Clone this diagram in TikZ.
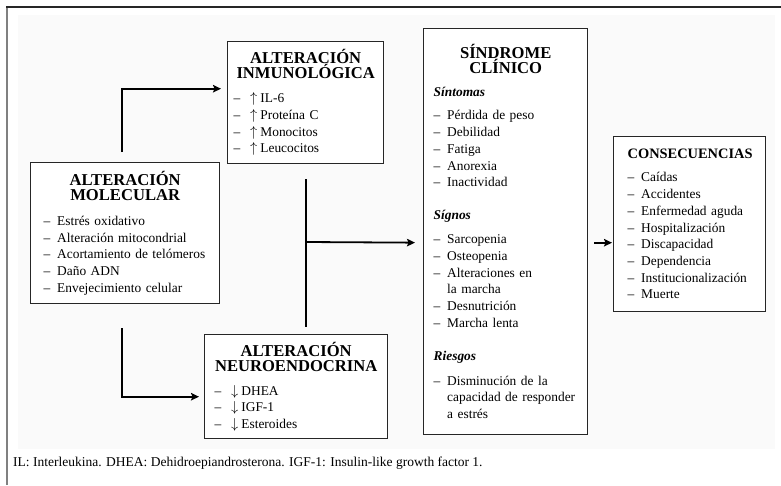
\documentclass[tikz,border=0pt]{standalone}
\usepackage{fontspec}
\setmainfont{Liberation Serif}
\usepackage{tikz}
\usepackage{xcolor}
\usetikzlibrary{arrows.meta}

\newcommand{\titulo}[2][16.6]{{\centering\bfseries\fontsize{#1}{15}\selectfont\lineskiplimit=-20pt #2\par}}
\newcommand{\elem}[1]{\par\hangindent=13.5pt\hangafter=1\noindent\makebox[13.5pt][l]{--}#1\par}
\newcommand{\grupo}[1]{\par\noindent{\bfseries\itshape #1}\par}
\newcommand{\sube}{\hspace{3pt}$\uparrow$\hspace{3pt}}
\newcommand{\baja}{\hspace{3pt}$\downarrow$\hspace{3pt}}

\begin{document}
\begin{tikzpicture}[x=1pt, y=-1pt]
            % Define styles
            \tikzstyle{box} = [rectangle, draw=black!85, line width=1.4pt, fill=white, anchor=north west, align=left, inner ysep=0pt, font=\fontsize{13.4}{16.7}\selectfont]
            \tikzstyle{arrow} = [line width=1.8pt, ->, >={Stealth[length=8pt, width=7.5pt, inset=1.5pt]}]
            \tikzstyle{link} = [line width=1.8pt]

            \useasboundingbox (0,0) rectangle (781,485);
            \fill [black!2] (18,15) rectangle (775,449);
            \draw [line width=1.6pt, black!50] (7,485) -- (7,7);
            \draw [line width=1.6pt, black!85] (6.2,7) -- (781,7);

            % Left column
            \node (molecular) [box, text width=163pt, inner xsep=13pt, minimum height=141pt] at (30,162) {\titulo{ALTERACIÓN\\MOLECULAR}\vspace{8.3pt}\elem{Estrés oxidativo}\elem{Alteración mitocondrial}\elem{Acortamiento de telómeros}\elem{Daño ADN}\elem{Envejecimiento celular}};

            % Middle column
            \node (inmuno) [box, text width=144pt, inner xsep=6pt, minimum height=122pt] at (227,41) {\titulo{ALTERACIÓN\\INMUNOLÓGICA}\vspace{7.3pt}\elem{\sube IL-6}\elem{\sube Proteína C}\elem{\sube Monocitos}\elem{\sube Leucocitos}};
            \node (neuro) [box, text width=163pt, inner xsep=10pt, minimum height=104pt] at (204,334) {\titulo{ALTERACIÓN\\NEUROENDOCRINA}\vspace{7.3pt}\elem{\baja DHEA}\elem{\baja IGF-1}\elem{\baja Esteroides}};

            % Right columns
            \node (sindrome) [box, text width=144pt, inner xsep=10pt, minimum height=406pt] at (423,28) {\titulo{SÍNDROME\\CLÍNICO}\vspace{6.3pt}\grupo{Síntomas}\vspace{6.3pt}\elem{Pérdida de peso}\elem{Debilidad}\elem{Fatiga}\elem{Anorexia}\elem{Inactividad}\vspace{16.3pt}\grupo{Sígnos}\vspace{7.3pt}\elem{Sarcopenia}\elem{Osteopenia}\elem{Alteraciones en\newline la marcha}\elem{Desnutrición}\elem{Marcha lenta}\vspace{16.3pt}\grupo{Riesgos}\vspace{8.3pt}\elem{Disminución de la\newline capacidad de responder\newline a estrés}};
            \node (consec) [box, text width=124pt, inner xsep=14pt, minimum height=175pt] at (613,136) {\titulo[14.4]{CONSECUENCIAS}\vspace{6.3pt}\elem{Caídas}\elem{Accidentes}\elem{Enfermedad aguda}\elem{Hospitalización}\elem{Discapacidad}\elem{Dependencia}\elem{Institucionalización}\elem{Muerte}};

            % Footnote
            \node (nota) [anchor=base west, inner sep=0pt, font=\fontsize{13.5}{15}\selectfont] at (13,466) {IL: Interleukina. DHEA: Dehidroepiandrosterona. IGF-1: Insulin-like growth factor 1.};

            % Arrows
            \coordinate (junta) at (306,242);
            \draw [arrow, shorten <=10pt, shorten >=6pt] ([xshift=-3.5pt]molecular.north) |- ([yshift=14pt]inmuno.west);
            \draw [arrow, shorten <=24pt, shorten >=5pt] ([xshift=-3.5pt]molecular.south) |- ([yshift=-10pt]neuro.west);
            \draw [link] ([yshift=-15pt]inmuno.south -| junta) -- ([yshift=7pt]neuro.north -| junta);
            \draw [arrow, shorten >=8pt] (junta) -- ([yshift=-11pt]sindrome.west);
            \draw [arrow, shorten <=6pt, shorten >=1pt] ([yshift=-11pt]sindrome.east) -- ([yshift=-11pt]sindrome.east -| consec.west);
        \end{tikzpicture}
\end{document}
